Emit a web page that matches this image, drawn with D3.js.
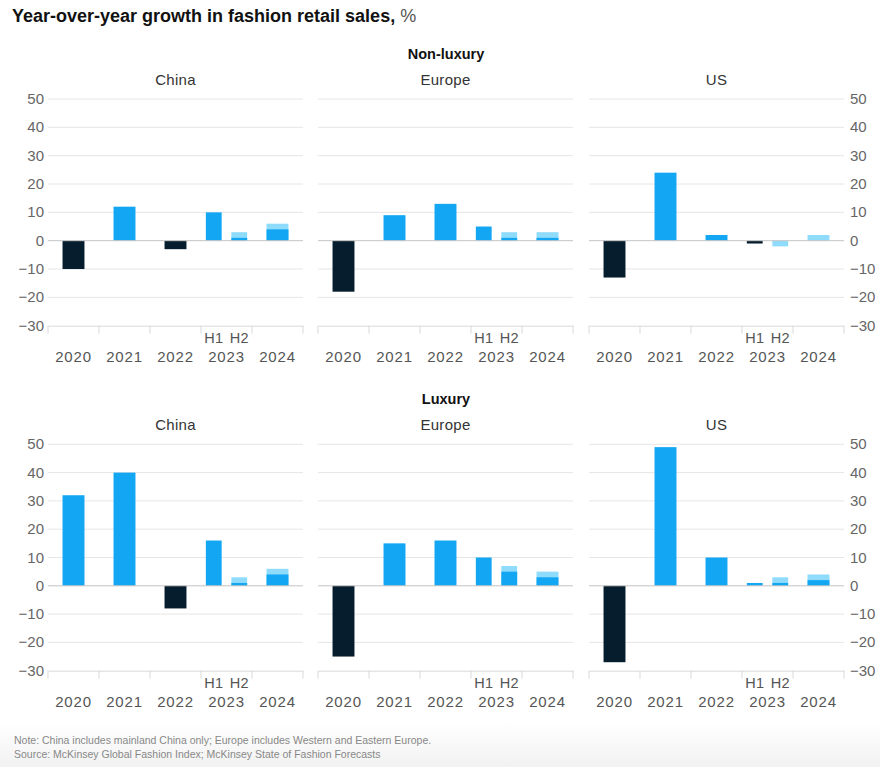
<!DOCTYPE html>
<html>
<head>
<meta charset="utf-8">
<script src="https://cdn.jsdelivr.net/npm/d3@7"></script>
<style>
  body { margin: 0; background: #fff; }
  svg { display: block; font-family: "Liberation Sans", Arial, sans-serif; }
</style>
</head>
<body>
<div id="chart"></div>
<script>
const width = 880, height = 767;

// categories
const years = ["2020", "2021", "2022", "2023", "2024"];
const regions = ["China", "Europe", "US"];
const segments = ["Non-luxury", "Luxury"];
const halves = ["H1", "H2"];
const yTicks = [50, 40, 30, 20, 10, 0, -10, -20, -30];

// actual values: 2020, 2021, 2022, 2023 H1 (rows: China, Europe, US)
const nonLuxuryActual = [[-10, 12, -3, 10], [-18, 9, 13, 5], [-13, 24, 2, -1]];
const luxuryActual = [[32, 40, -8, 16], [-25, 15, 16, 10], [-27, 49, 10, 1]];

// forecast ranges: 2023 H2, 2024 (low / high)
const nonLuxuryLow = [[1, 4], [1, 1], [-2, 0]];
const nonLuxuryHigh = [[3, 6], [3, 3], [0, 2]];
const luxuryLow = [[1, 4], [5, 3], [1, 2]];
const luxuryHigh = [[3, 6], [7, 5], [3, 4]];

const colors = {pos: "#12a6f3", neg: "#061d2d", light: "#8fdbfc"};

const panelX = [48, 318, 589], panelW = 255;
const rowTop = [99, 444.3], rowBottom = [325.7, 670.7];

let svg = d3.select("#chart")
    .append("svg")
    .attr("width", width)
    .attr("height", height);

// faint shading behind the footnote
let grad = svg.append("defs").append("linearGradient")
    .attr("id", "foot").attr("x1", 0).attr("x2", 0).attr("y1", 0).attr("y2", 1);
grad.append("stop").attr("offset", "0%").attr("stop-color", "#fff");
grad.append("stop").attr("offset", "100%").attr("stop-color", "#f2f2f2");
svg.append("rect").attr("x", 0).attr("y", 722).attr("width", width).attr("height", 45)
    .attr("fill", "url(#foot)");

// chart title
let title = svg.append("text")
    .attr("x", 12).attr("y", 22)
    .style("font-size", "18px")
    .style("font-weight", "bold")
    .style("fill", "#111");
title.append("tspan").text("Year-over-year growth in fashion retail sales, ");
title.append("tspan").style("font-weight", "normal").style("fill", "#555").text("%");

const fmt = v => v < 0 ? "\u2212" + Math.abs(v) : String(v);

segments.forEach(function (seg, r) {
    let actual = r === 0 ? nonLuxuryActual : luxuryActual;
    let low = r === 0 ? nonLuxuryLow : luxuryLow;
    let high = r === 0 ? nonLuxuryHigh : luxuryHigh;

    let y = d3.scaleLinear().domain([-30, 50]).range([rowBottom[r], rowTop[r]]);

    // segment heading
    svg.append("text")
        .attr("x", 446).attr("y", r === 0 ? 59 : 404)
        .style("text-anchor", "middle")
        .style("font-size", "14.5px")
        .style("font-weight", "bold")
        .style("fill", "#111")
        .text(seg);

    regions.forEach(function (reg, c) {
        let g = svg.append("g");
        let x = d3.scaleBand().domain(years)
            .range([panelX[c], panelX[c] + panelW]);
        let bw = x.bandwidth();
        let xh = d3.scalePoint().domain(halves).range([0, bw]).padding(0.5);

        // region name
        g.append("text")
            .attr("x", panelX[c] + panelW / 2)
            .attr("y", r === 0 ? 85 : 430)
            .style("text-anchor", "middle")
            .style("font-size", "15px")
            .style("letter-spacing", "0.3px")
            .style("fill", "#333")
            .text(reg);

        // gridlines
        g.selectAll(".grid").data(yTicks.filter(t => t !== -30 && t !== 0)).enter()
            .append("line")
            .attr("x1", panelX[c]).attr("x2", panelX[c] + panelW)
            .attr("y1", d => y(d)).attr("y2", d => y(d))
            .attr("stroke", "#e6e6e6").attr("stroke-width", 1);

        // bottom axis with category ticks
        let axis = g.append("g")
            .attr("transform", `translate(0,${y(-30)})`)
            .call(d3.axisBottom(x).tickSize(0).tickFormat(""));
        axis.select(".domain").attr("stroke", "#d9d9d9");
        g.selectAll(".sep").data(d3.range(years.length + 1)).enter()
            .append("line")
            .attr("x1", i => panelX[c] + i * bw).attr("x2", i => panelX[c] + i * bw)
            .attr("y1", y(-30)).attr("y2", y(-30) + 8)
            .attr("stroke", "#d9d9d9");

        // year labels
        g.selectAll(".yr").data(years).enter()
            .append("text")
            .attr("x", d => x(d) + bw / 2)
            .attr("y", y(-30) + 36)
            .style("text-anchor", "middle")
            .style("font-size", "15px")
            .style("letter-spacing", "0.8px")
            .style("fill", "#555")
            .text(d => d);
        g.selectAll(".half").data(halves).enter()
            .append("text")
            .attr("x", d => x("2023") + xh(d))
            .attr("y", y(-30) + 17)
            .style("text-anchor", "middle")
            .style("font-size", "14.5px")
            .style("letter-spacing", "0.3px")
            .style("fill", "#555")
            .text(d => d);

        // actual bars
        let acts = actual[c].map((v, i) => ({
            v: v,
            cx: i < 3 ? x(years[i]) + bw / 2 : x("2023") + xh("H1"),
            w: i < 3 ? bw * 0.43 : bw * 0.31
        }));
        g.selectAll(".act").data(acts).enter()
            .append("rect")
            .attr("x", d => d.cx - d.w / 2)
            .attr("width", d => d.w)
            .attr("y", d => y(Math.max(0, d.v)))
            .attr("height", d => Math.abs(y(d.v) - y(0)))
            .attr("fill", d => d.v >= 0 ? colors.pos : colors.neg);

        // forecast ranges
        let fc = low[c].map((lo, i) => ({
            lo: lo, hi: high[c][i],
            cx: i === 0 ? x("2023") + xh("H2") : x("2024") + bw / 2,
            w: i === 0 ? bw * 0.31 : bw * 0.43
        }));
        g.selectAll(".fcl").data(fc).enter()
            .append("rect")
            .attr("x", d => d.cx - d.w / 2)
            .attr("width", d => d.w)
            .attr("y", d => y(Math.max(0, d.hi)))
            .attr("height", d => y(Math.min(0, d.lo)) - y(Math.max(0, d.hi)))
            .attr("fill", colors.light);
        g.selectAll(".fcb").data(fc.filter(d => d.lo > 0)).enter()
            .append("rect")
            .attr("x", d => d.cx - d.w / 2)
            .attr("width", d => d.w)
            .attr("y", d => y(d.lo))
            .attr("height", d => y(0) - y(d.lo))
            .attr("fill", colors.pos);

        // zero line
        g.append("line")
            .attr("x1", panelX[c]).attr("x2", panelX[c] + panelW)
            .attr("y1", y(0)).attr("y2", y(0))
            .attr("stroke", "#c4c4c4").attr("stroke-width", 1);

        // y-axis labels on outer panels
        if (c === 0 || c === 2) {
            g.selectAll(".yl").data(yTicks).enter()
                .append("text")
                .attr("x", c === 0 ? panelX[c] - 4 : panelX[c] + panelW + 6)
                .attr("y", d => y(d) + 5)
                .style("text-anchor", c === 0 ? "end" : "start")
                .style("font-size", "15px")
                .style("fill", "#666")
                .text(d => fmt(d));
        }
    });
});

// footnotes
svg.append("text")
    .attr("x", 14).attr("y", 744)
    .style("font-size", "10.5px").style("fill", "#888")
    .text("Note: China includes mainland China only; Europe includes Western and Eastern Europe.");
svg.append("text")
    .attr("x", 14).attr("y", 758)
    .style("font-size", "10.5px").style("fill", "#888")
    .text("Source: McKinsey Global Fashion Index; McKinsey State of Fashion Forecasts");
</script>
</body>
</html>
